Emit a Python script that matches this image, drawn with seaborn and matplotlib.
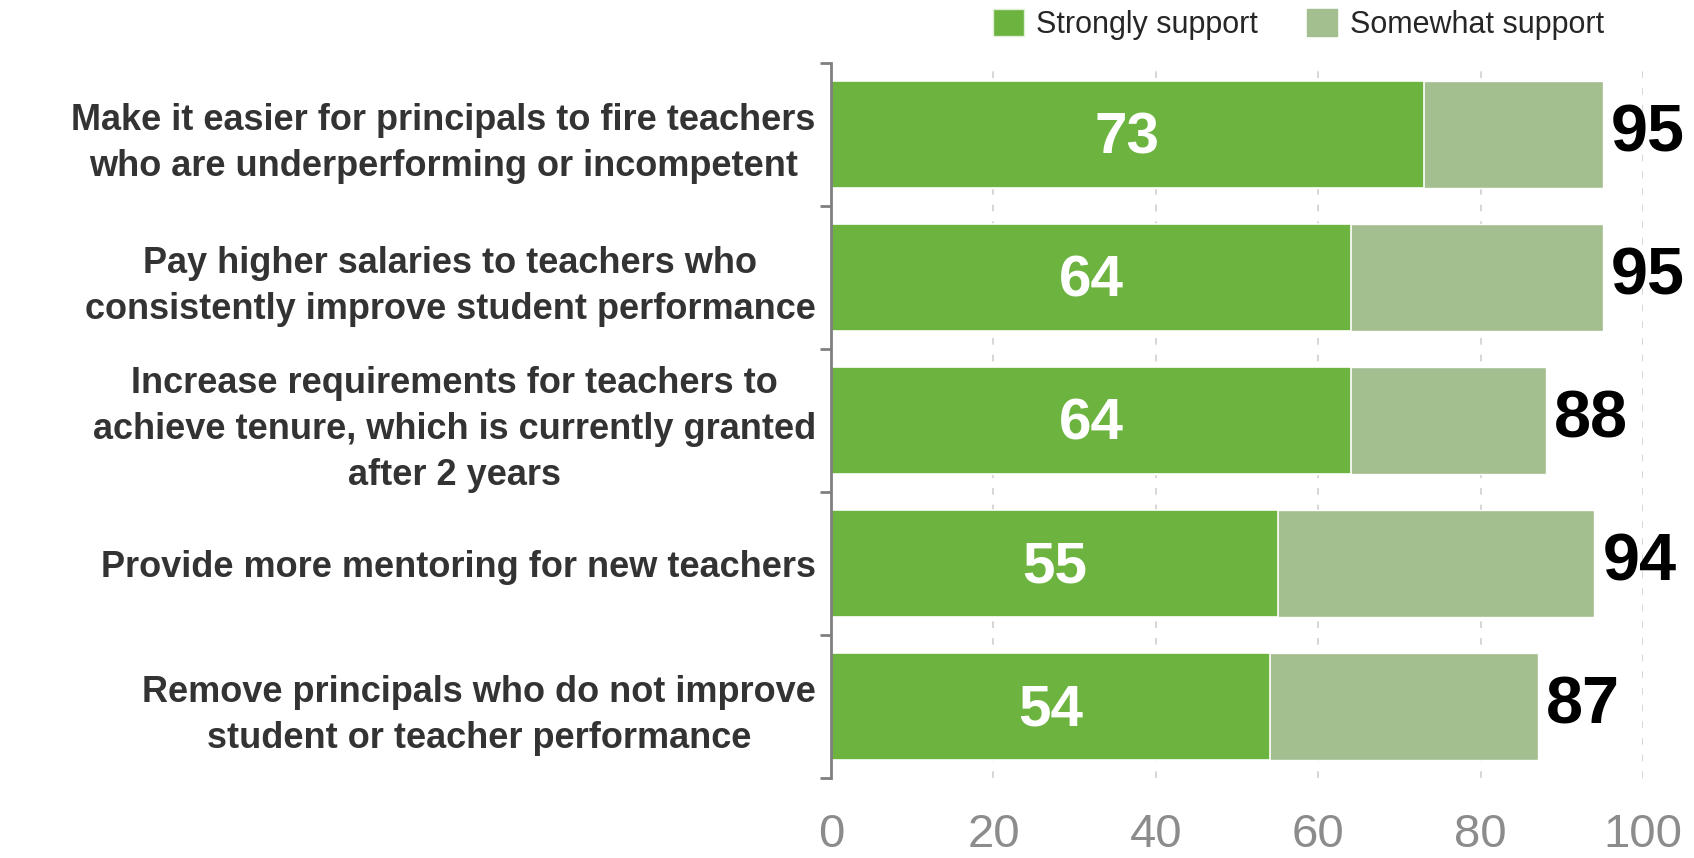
import matplotlib
matplotlib.use("Agg")
import matplotlib.pyplot as plt
from matplotlib.patches import Patch
import pandas as pd
import seaborn as sns

# values (percent of respondents)
statements = [
    "Make it easier for principals to fire teachers\nwho are underperforming or incompetent",
    "Pay higher salaries to teachers who\nconsistently improve student performance",
    "Increase requirements for teachers to\nachieve tenure, which is currently granted\nafter 2 years",
    "Provide more mentoring for new teachers",
    "Remove principals who do not improve\nstudent or teacher performance",
]
strongly_support = [73, 64, 64, 55, 54]
somewhat_support = [22, 31, 24, 39, 33]
total_support = [95, 95, 88, 94, 87]
x_ticks = [0, 20, 40, 60, 80, 100]
series_names = ["Strongly support", "Somewhat support"]

green_dark = "#6db33f"
green_light = "#a3be8f"

sns.set_theme(style="white")
plt.rcParams["font.family"] = ["Liberation Sans", "DejaVu Sans"]

df = pd.DataFrame({"statement": statements,
                   "strongly": strongly_support,
                   "somewhat": somewhat_support})
df["both"] = df["strongly"] + df["somewhat"]

fig = plt.figure(figsize=(16.94, 8.58), dpi=100)
ax = fig.add_axes([0.4906, 0.0932, 0.4794, 0.8338])

# stacked bars: full length first, strong support on top
sns.barplot(data=df, x="both", y="statement", color=green_light, saturation=1,
            width=0.75, edgecolor="white", linewidth=1, ax=ax)
sns.barplot(data=df, x="strongly", y="statement", color=green_dark, saturation=1,
            width=0.75, edgecolor="white", linewidth=1.2, ax=ax)

# numbers on the bars
for i, (s, t) in enumerate(zip(strongly_support, total_support)):
    ax.text(s / 2, i + 0.03, str(s), color="white", fontsize=42, fontweight="bold",
            ha="center", va="center")
    ax.text(t + 1.0, i, str(t), color="black", fontsize=48, fontweight="bold",
            ha="left", va="center")

# axes
ax.set_xlim(0, 100)
ax.set_ylim(4.5, -0.5)
ax.set_xticks(x_ticks)
ax.set_xlabel("")
ax.set_ylabel("")
ax.set_axisbelow(True)
ax.xaxis.grid(True, linestyle=(0, (4, 6)), color="#cfcfcf", linewidth=1.2)
ax.yaxis.grid(False)
for side in ["top", "right", "bottom"]:
    ax.spines[side].set_visible(False)
ax.spines["left"].set_color("#808080")
ax.spines["left"].set_linewidth(2)

ax.set_yticks(range(len(statements)))
ax.set_yticklabels(statements, multialignment="center", linespacing=1.4)
ax.set_yticks([i - 0.5 for i in range(len(statements) + 1)], minor=True)
ax.tick_params(axis="y", which="major", length=0, pad=11, labelsize=26,
               labelcolor="#333333")
ax.tick_params(axis="y", which="minor", left=True, length=8, width=2,
               color="#808080")
for lab in ax.get_yticklabels():
    lab.set_fontweight("bold")
ax.tick_params(axis="x", length=0, pad=25, labelsize=34, labelcolor="#8c8c8c")

# legend
handles = [Patch(facecolor=green_dark, edgecolor="#dfeed5", linewidth=1),
           Patch(facecolor=green_light, edgecolor=green_light)]
fig.legend(handles, series_names, loc="upper right", bbox_to_anchor=(0.963, 1.022),
           ncol=2, frameon=False, fontsize=22, handlelength=1.0, handleheight=1.0,
           columnspacing=1.6, handletextpad=0.4)

fig.savefig("out.png", dpi=100)
plt.close()
